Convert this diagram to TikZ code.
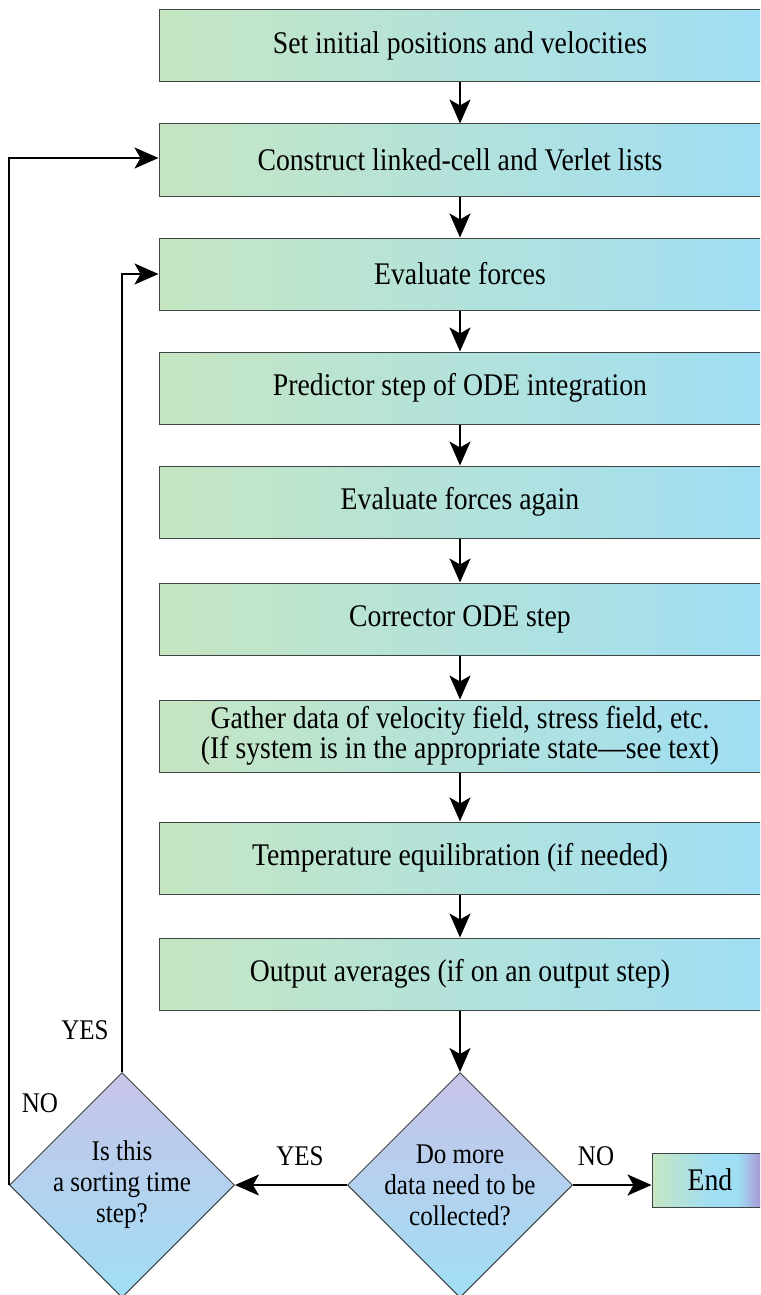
\documentclass[tikz,border=0pt]{standalone}
\usepackage{fontspec}
\setmainfont{Liberation Serif}[FakeStretch=0.88]
\usetikzlibrary{
	arrows.meta,
	shapes.geometric
}
\definecolor{frame}{RGB}{60,68,68}
\definecolor{boxl}{RGB}{198,230,194}
\definecolor{boxm}{RGB}{168,221,206}
\definecolor{boxr}{RGB}{160,222,244}
\definecolor{endr}{RGB}{168,150,212}
\definecolor{diat}{RGB}{200,196,232}
\definecolor{diab}{RGB}{160,222,246}
\pgfdeclarehorizontalshading{endshade}{100bp}{color(0bp)=(boxl); color(25bp)=(boxl); color(50bp)=(boxr); color(62bp)=(boxr); color(72bp)=(endr); color(100bp)=(endr)}

\begin{document}
\begin{tikzpicture}[x=1pt, y=-1pt,
	>={Stealth[length=24pt,width=21pt,inset=6pt]},
	stepbox/.style={draw=frame, line width=1pt, left color=boxl, middle color=boxm, right color=boxr,
		minimum width=602pt, minimum height=72pt, inner sep=0pt, align=center,
		font=\fontsize{31.5}{26}\selectfont},
	question/.style={diamond, aspect=1, draw=frame, line width=1pt, top color=diat, bottom color=diab,
		minimum width=225pt, minimum height=225pt, inner sep=-4pt, align=center,
		font=\fontsize{28.5}{31}\selectfont},
	answer/.style={font=\fontsize{28.5}{31}\selectfont},
	flow/.style={->, line width=2pt}
]

	% Frame
		\useasboundingbox (0,0) rectangle (760,1295);
		\clip (0,0) rectangle (760,1295);

	% Steps of one time step
		\node[stepbox] (init) at (460,46) {Set initial positions and velocities};
		\node[stepbox] (lists) at (460,160) {Construct linked-cell and Verlet lists};
		\node[stepbox] (forces) at (460,274) {Evaluate forces};
		\node[stepbox] (predict) at (460,388) {Predictor step of ODE integration};
		\node[stepbox] (again) at (460,502) {Evaluate forces again};
		\node[stepbox] (correct) at (460,619) {Corrector ODE step};
		\node[stepbox] (gather) at (460,736) {Gather data of velocity field, stress field, etc.\\(If system is in the appropriate state---see text)};
		\node[stepbox] (temp) at (460,858) {Temperature equilibration (if needed)};
		\node[stepbox] (output) at (460,974) {Output averages (if on an output step)};

	% Decisions
		\node[question] (more) at (460,1185) {Do more\\data need to be\\collected?};
		\node[question] (sort) at (122,1185) {Is this\\a sorting time\\step?};
		\node[stepbox, shading=endshade, shading angle=0, minimum width=116pt, minimum height=54pt] (end) at (710,1180) {End};

	% Arrows
		\draw[flow] (init) -- (lists);
		\draw[flow] (lists) -- (forces);
		\draw[flow] (forces) -- (predict);
		\draw[flow] (predict) -- (again);
		\draw[flow] (again) -- (correct);
		\draw[flow] (correct) -- (gather);
		\draw[flow] (gather) -- (temp);
		\draw[flow] (temp) -- (output);
		\draw[flow] (output) -- (more);
		\draw[flow] (more.east) -- (end.west |- more.east);
		\draw[flow] (more.west) -- (sort.east);
		\draw[flow] (sort.north) |- (forces.west);
		\draw[flow] (sort.west) |- ([yshift=2pt]lists.west);

	% Answers
		\node[answer] (moreno) at (596,1156) {NO};
		\node[answer] (moreyes) at (300,1156) {YES};
		\node[answer] (sortyes) at (85,1030) {YES};
		\node[answer] (sortno) at (40,1103) {NO};

\end{tikzpicture}
\end{document}
